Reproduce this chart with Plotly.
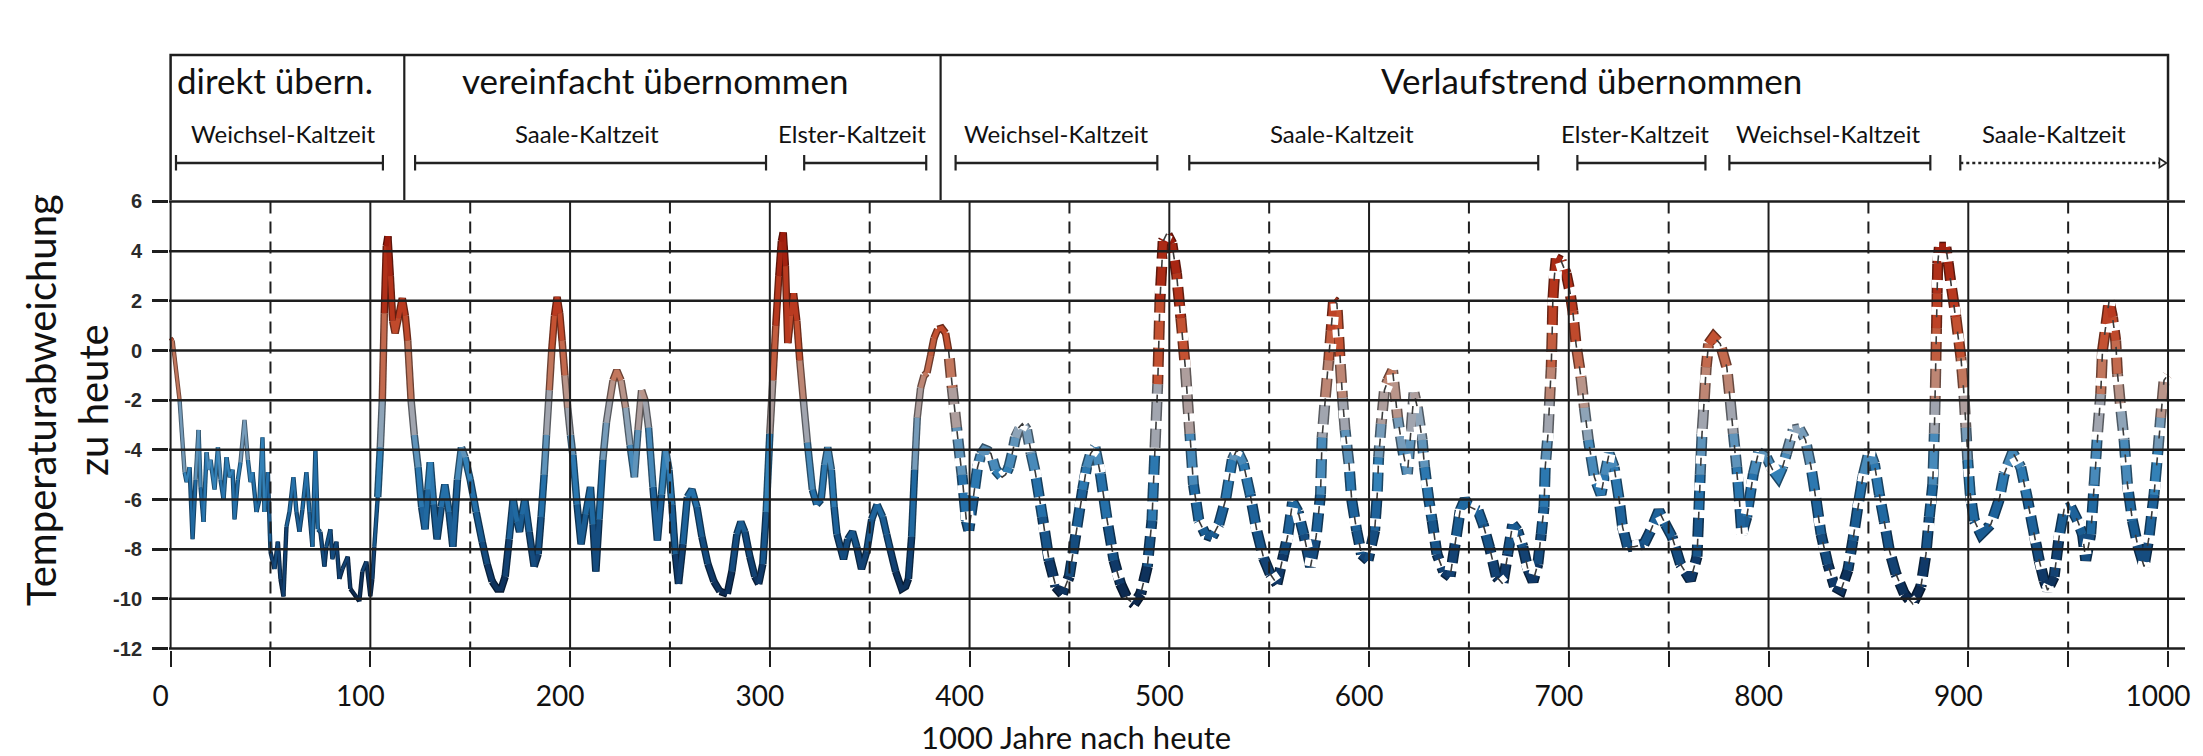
import plotly.graph_objects as go

# ---------------- data ----------------
# 1) directly adopted record (thin line)
direct_years = [0, 1, 4.5, 7, 8, 9.5, 11, 12.5, 14, 15, 16.5, 18, 19, 20, 22, 23.7, 25, 26.5, 28, 29.5,
                31, 32, 33.7, 35, 37, 38.7, 40, 41, 43, 44.5, 46, 47, 48.7, 50, 52, 53.7, 55, 56.5, 58, 59.5,
                61.5, 63, 64.5, 66, 68, 69.5, 71, 72.5, 73.7, 75, 77, 78, 80, 81, 83, 84.5, 86, 88.7, 90, 93,
                94.5, 96, 98, 100, 101, 102, 103.7]
direct_temp = [0.5, 0.4, -2.0, -4.9, -5.3, -4.7, -7.6, -5.2, -3.2, -5.5, -6.9, -4.1, -4.8, -4.4, -5.6, -3.9, -5.2, -6.0, -4.3, -5.1,
               -4.8, -6.8, -5.2, -4.5, -2.8, -4.4, -5.3, -4.9, -6.5, -6.0, -3.5, -6.5, -4.9, -8.1, -8.8, -7.7, -9.2, -9.9, -7.1, -6.5,
               -5.1, -6.5, -7.3, -6.4, -4.9, -6.5, -7.9, -4.0, -7.2, -7.3, -8.7, -7.9, -7.2, -8.4, -7.7, -9.2, -8.8, -8.3, -9.6, -9.9,
               -10.1, -8.9, -8.5, -9.9, -9.2, -7.9, -5.9]

# 2) simplified adoption (thick solid line)
simplified_years = [103.7, 105, 106, 107, 108, 108.8, 110, 111.2, 112.4, 114, 116, 117.5, 118.7, 120.4, 122, 123.9, 125.7, 127.4, 128.8, 130,
                    131.7, 133.4, 135.5, 137.3, 139.4, 141.3, 143.6, 145.6, 147.4, 150, 153, 156, 158.5, 161, 163.5, 165.5, 167.5, 169.5, 171.5, 173.5,
                    174.7, 176, 177.3, 179.5, 182, 184, 185.5, 187, 188.2, 189.6, 190.8, 192.2, 193.5, 194.8, 196, 197.4, 198.8, 200.2, 201.4, 203.5,
                    205.5, 207.8, 210.2, 211.5, 212.9, 214.5, 216.4, 218.2, 219.9, 221.5, 223.4, 225.5, 227.8, 230, 232.2, 234, 235.8, 237.5, 239.3, 241.5,
                    243.7, 245.8, 247.8, 249.5, 251, 252.7, 254.3, 256.5, 258.7, 261, 263.5, 266, 269, 272, 275, 278.7, 281, 283.5, 285.5, 287.5,
                    290, 292.5, 294.4, 296.5, 298.2, 300, 301.5, 303, 304.5, 305.8, 306.7, 307.8, 309, 310.5, 311.9, 313.5, 315, 316.8, 318.8, 321.3,
                    323.5, 325.7, 327.5, 329, 330.8, 332.2, 333.6, 336.9, 339, 341.4, 343.5, 345.9, 348.5, 351, 353.7, 356.5, 358.5, 360.4, 363, 366,
                    368, 369.4, 371, 372.5, 373.8, 375.5, 377.2, 378.7, 380.5, 382.2, 384, 386.1, 388, 389.5]
simplified_temp = [-5.9, -3.9, -2.0, 1.5, 4.2, 4.6, 3.0, 1.2, 0.7, 1.3, 2.1, 1.4, 0.4, -2.0, -3.4, -4.7, -6.3, -7.2, -5.6, -4.5,
                   -6.2, -7.6, -6.3, -5.4, -6.5, -7.9, -5.2, -3.9, -4.3, -5.2, -6.5, -7.7, -8.6, -9.3, -9.6, -9.6, -9.1, -7.6, -6.0, -6.9,
                   -7.3, -6.6, -6.0, -7.3, -8.7, -8.2, -6.7, -5.0, -3.4, -1.6, 0.0, 1.4, 2.15, 1.5, 0.4, -1.0, -2.3, -3.4, -4.2, -6.2,
                   -7.8, -6.6, -5.5, -7.0, -8.9, -6.8, -4.4, -2.9, -2.0, -1.2, -0.8, -1.2, -2.3, -3.8, -5.1, -3.2, -1.6, -2.0, -3.1, -5.5,
                   -7.65, -5.8, -4.0, -4.8, -6.2, -8.2, -9.4, -7.8, -5.9, -5.6, -6.3, -7.5, -8.6, -9.3, -9.7, -9.8, -8.9, -7.4, -6.9, -7.3,
                   -8.3, -9.1, -9.4, -8.6, -6.5, -3.35, -1.2, 1.0, 3.0, 4.4, 4.75, 3.4, 0.3, 1.4, 2.3, 1.2, -0.4, -2.0, -3.7, -5.6,
                   -6.2, -6.0, -4.6, -3.9, -4.8, -6.3, -7.4, -8.4, -7.6, -7.3, -7.9, -8.8, -8.1, -6.8, -6.2, -6.7, -7.4, -8.05, -8.9, -9.6,
                   -9.5, -9.2, -7.5, -4.8, -2.7, -1.5, -1.0, -0.9, -0.2, 0.5, 0.85, 0.9, 0.7, 0.0]

# 3) trend adoption (dashed line)
trend_years = [389.5, 391.3, 393.5, 396.2, 398.4, 399.6, 401.8, 404, 405.7, 407.4, 409, 410.7, 413, 416.3, 418, 419.7, 421.5, 423, 424.7, 426.4,
               428.6, 430.8, 433, 436.5, 439.8, 443.2, 446.5, 449.9, 453.2, 456.6, 458.6, 460.6, 462.8, 465.5, 468.9, 472.3, 475.6, 479, 482.3, 485.7,
               489, 491.3, 492.8, 494.2, 495.3, 496.9, 498.7, 501.3, 503.6, 505.8, 508, 510.3, 512.1, 514.8, 518.1, 521.5, 524.8, 528.2, 531.5, 533.8,
               537.1, 540.5, 543.8, 547.2, 550.5, 553.9, 557.3, 559.2, 561.7, 564.5, 567.3, 570.7, 573.5, 575.7, 576.5, 578.1, 579.8, 581, 582.2, 583.9,
               585.5, 586.7, 588, 590, 591.3, 593.8, 596.2, 599.5, 602.8, 604.1, 604.8, 606.1, 607.7, 609.4, 611.8, 614.3, 616.8, 619.2, 620.9, 622.5,
               624.2, 626.6, 627.8, 629.9, 631.6, 634, 637.3, 640.6, 643.1, 645.6, 648, 650.5, 654.6, 657.1, 660.4, 663.7, 667, 669.4, 671.9, 674.3,
               677, 679.5, 682.1, 684.5, 686.2, 687.6, 688.2, 689.6, 690.4, 691.2, 691.7, 692, 692.8, 693.7, 696.2, 698.7, 700.5, 702, 703.6, 706.1,
               707.8, 709.8, 712.8, 716.1, 718, 720.2, 722.7, 725.2, 726.9, 729.4, 732.7, 737.6, 741, 745.1, 748.4, 751.7, 755.9, 760.9, 764.2, 765,
               765.8, 766.7, 767.8, 768.8, 770, 772.5, 775.8, 779.1, 780.8, 782.4, 784.1, 785.4, 786.6, 789.1, 792.4, 795, 799, 802, 804.8, 807,
               809, 812.3, 815.5, 818.5, 821.3, 823.8, 826.3, 829.7, 833, 836.3, 839.7, 842.2, 844.7, 847.2, 850.5, 853, 855.5, 858, 860.5, 863.8,
               868, 872.2, 876.3, 878.8, 880.5, 882.2, 883, 883.4, 883.8, 884.1, 884.4, 884.7, 885.5, 888.8, 890, 891.3, 893.8, 896.3, 897.7, 898.8,
               899.7, 901, 903, 906.3, 911.3, 915.5, 918, 922.2, 926.3, 929.7, 933, 935.5, 938, 939.7, 943, 945.5, 948, 951.3, 954.7, 957.2,
               958.8, 961.3, 963, 964.7, 966.3, 967.2, 968.8, 970.5, 972.2, 973.8, 974.7, 976.3, 978, 979.7, 982.2, 984.7, 988, 990.5, 993, 995,
               996.3, 998, 999.7]
trend_temp = [0.0, -1.5, -3.1, -5.0, -6.85, -7.25, -6.0, -4.7, -4.2, -4.0, -4.05, -4.15, -4.8, -5.1, -5.0, -4.7, -4.1, -3.5, -3.1, -2.95,
              -3.2, -4.15, -4.95, -6.7, -8.45, -9.5, -9.8, -9.1, -7.4, -5.6, -4.7, -4.15, -3.9, -4.97, -6.85, -8.45, -9.4, -10.0, -10.2, -9.8,
              -8.7, -6.85, -4.0, -1.35, 2.0, 4.4, 4.7, 4.3, 3.1, 1.3, -0.67, -3.35, -5.4, -6.85, -7.4, -7.5, -7.0, -6.0, -4.4, -4.0,
              -4.56, -5.8, -7.25, -8.35, -9.0, -9.4, -8.2, -7.5, -6.1, -6.5, -7.4, -8.7, -7.5, -5.8, -3.5, -1.9, -0.4, 0.8, 2.0, 1.9,
              -0.4, -1.9, -3.2, -4.6, -6.0, -7.25, -8.2, -8.45, -7.25, -5.8, -4.3, -2.95, -1.6, -1.2, -0.8, -2.7, -4.0, -4.97, -3.35, -1.7,
              -2.3, -3.6, -4.7, -6.0, -6.85, -8.2, -8.9, -9.1, -7.8, -6.45, -6.0, -6.3, -6.45, -7.0, -7.95, -9.1, -9.4, -8.2, -7.0, -7.25,
              -7.9, -8.8, -9.3, -8.6, -7.4, -6.3, -4.7, -3.35, -2.0, -0.67, 0.8, 2.0, 3.0, 3.7, 3.6, 3.1, 2.4, 1.6, 0.27, -1.07,
              -2.3, -3.6, -5.1, -5.8, -5.0, -4.15, -4.7, -6.0, -7.1, -7.9, -7.9, -7.8, -7.25, -6.45, -7.0, -7.5, -8.6, -9.25, -8.3, -6.7,
              -5.0, -3.35, -2.0, -0.67, 0.27, 0.55, 0.27, -0.67, -2.0, -3.35, -4.7, -6.0, -7.4, -6.7, -4.97, -4.1, -4.3, -4.8, -5.1, -4.7,
              -4.15, -3.2, -3.15, -3.6, -4.7, -6.0, -7.4, -8.6, -9.5, -9.65, -8.85, -7.65, -6.3, -5.1, -4.0, -4.56, -5.8, -6.9, -8.05, -9.0,
              -9.8, -10.2, -9.5, -8.2, -6.7, -5.4, -3.35, -2.0, -0.4, 0.9, 2.3, 3.5, 4.16, 4.16, 3.5, 2.7, 1.35, -0.27, -1.6, -3.1,
              -4.4, -5.8, -6.85, -7.4, -7.0, -6.0, -4.97, -4.1, -4.7, -6.0, -7.4, -8.45, -9.26, -9.65, -9.1, -7.5, -6.4, -6.3, -6.85, -7.4,
              -8.45, -7.4, -5.4, -3.35, -1.75, 0.0, 0.94, 2.0, 1.35, 0.4, -0.94, -2.3, -3.6, -5.4, -6.85, -7.8, -8.7, -7.5, -5.8, -4.0,
              -2.7, -1.2, -1.0]

assert len(direct_years) == len(direct_temp), (len(direct_years), len(direct_temp))
assert len(simplified_years) == len(simplified_temp), (len(simplified_years), len(simplified_temp))
assert len(trend_years) == len(trend_temp), (len(trend_years), len(trend_temp))

# axis ticks
x_tick_vals = [0, 100, 200, 300, 400, 500, 600, 700, 800, 900, 1000]
x_tick_text = ["0", "100", "200", "300", "400", "500", "600", "700", "800", "900", "1000"]
x_minor_vals = [50, 150, 250, 350, 450, 550, 650, 750, 850, 950]
y_tick_vals = [-12, -10, -8, -6, -4, -2, 0, 2, 4, 6]
y_tick_text = ["-12", "-10", "-8", "-6", "-4", "-2", "0", "2", "4", "6"]

# header: adoption methods and their extents
method_names = ["direkt übern.", "vereinfacht übernommen", "Verlaufstrend übernommen"]
method_bounds = [0, 117, 385.5, 1000]

# header: cold periods (brackets)
period_names = ["Weichsel-Kaltzeit", "Saale-Kaltzeit", "Elster-Kaltzeit", "Weichsel-Kaltzeit",
                "Saale-Kaltzeit", "Elster-Kaltzeit", "Weichsel-Kaltzeit", "Saale-Kaltzeit"]
period_start = [2.7, 122.4, 317.2, 393, 510, 704.3, 780.4, 896]
period_end = [106.3, 298.1, 378.3, 494, 684.7, 768.4, 881, 999.2]

# ---------------- styling ----------------
W, H = 2203, 756
M_L, M_R, M_T, M_B = 169, 18, 200, 106
X_RANGE = [-0.8, 1008.5]
Y_RANGE = [-12.06, 6.06]
PLOT_H = H - M_T - M_B


def py_to_paper(py):
    return (H - M_B - py) / PLOT_H


def px_to_paper(px):
    return (px - M_L) / (W - M_L - M_R)


GRID = "#1e1e1e"
TXT_FONT = "Lato, Carlito, 'Open Sans', sans-serif"

COLOR_STOPS = [(-10.5, (10, 30, 62)), (-9.0, (16, 56, 102)), (-7.5, (24, 86, 140)), (-6.0, (34, 108, 165)),
               (-4.8, (52, 130, 184)), (-3.8, (104, 152, 188)), (-2.8, (156, 168, 182)), (-1.8, (184, 152, 142)),
               (-0.8, (194, 118, 92)), (0.5, (196, 82, 50)), (2.0, (184, 56, 30)), (4.8, (156, 26, 12))]


def color_at(v):
    if v <= COLOR_STOPS[0][0]:
        return COLOR_STOPS[0][1]
    for (a, ca), (b, cb) in zip(COLOR_STOPS[:-1], COLOR_STOPS[1:]):
        if v <= b:
            t = (v - a) / (b - a)
            return tuple(ca[i] + t * (cb[i] - ca[i]) for i in range(3))
    return COLOR_STOPS[-1][1]


def rgb(c, f=1.0):
    return "rgb(%d,%d,%d)" % tuple(max(0, min(255, int(round(ch * f)))) for ch in c)


N_BINS = 34
VMIN, VMAX = -10.5, 4.8


def bin_index(v):
    k = int((v - VMIN) / (VMAX - VMIN) * N_BINS)
    return min(max(k, 0), N_BINS - 1)


def bin_value(k):
    return VMIN + (k + 0.5) * (VMAX - VMIN) / N_BINS


def runs_by_bin(xs, ys):
    segs = [bin_index((ys[i] + ys[i + 1]) / 2.0) for i in range(len(xs) - 1)]
    runs = {}
    i = 0
    while i < len(segs):
        j = i
        while j + 1 < len(segs) and segs[j + 1] == segs[i]:
            j += 1
        rx, ry = runs.setdefault(segs[i], ([], []))
        rx.extend(list(xs[i:j + 2]) + [None])
        ry.extend(list(ys[i:j + 2]) + [None])
        i = j + 1
    return runs


fig = go.Figure()


def add_gradient_line(xs, ys, w_under, w_top, dark=0.55):
    runs = runs_by_bin(xs, ys)
    for k in sorted(runs):
        rx, ry = runs[k]
        fig.add_trace(go.Scatter(x=rx, y=ry, mode="lines", hoverinfo="skip", showlegend=False,
                                 line=dict(color=rgb(color_at(bin_value(k)), dark), width=w_under)))
    for k in sorted(runs):
        rx, ry = runs[k]
        fig.add_trace(go.Scatter(x=rx, y=ry, mode="lines", hoverinfo="skip", showlegend=False,
                                 line=dict(color=rgb(color_at(bin_value(k))), width=w_top)))


add_gradient_line(direct_years, direct_temp, 4.4, 2.4, dark=0.6)
add_gradient_line(simplified_years, simplified_temp, 7.5, 4.8)
add_gradient_line(trend_years, trend_temp, 11.0, 8.0)

DASH_GAP = "8px,19px"
fig.add_trace(go.Scatter(x=trend_years, y=trend_temp, mode="lines", hoverinfo="skip", showlegend=False,
                         line=dict(color="white", width=13, dash=DASH_GAP)))
fig.add_trace(go.Scatter(x=trend_years, y=trend_temp, mode="lines", hoverinfo="skip", showlegend=False,
                         line=dict(color="#3a3a3a", width=1.6, dash=DASH_GAP)))

shapes = []
for yv in y_tick_vals:
    shapes.append(dict(type="line", xref="x", yref="y", x0=X_RANGE[0], x1=X_RANGE[1], y0=yv, y1=yv,
                       line=dict(color=GRID, width=2.5), layer="above"))
for xv in x_tick_vals:
    shapes.append(dict(type="line", xref="x", yref="y", x0=xv, x1=xv, y0=y_tick_vals[0], y1=y_tick_vals[-1],
                       line=dict(color=GRID, width=2), layer="above"))
for xv in x_minor_vals:
    shapes.append(dict(type="line", xref="x", yref="y", x0=xv, x1=xv, y0=y_tick_vals[-1], y1=y_tick_vals[0],
                       line=dict(color=GRID, width=2, dash="12px,8px"), layer="above"))

# header box
HB_TOP = py_to_paper(55)
HB_BOT = 1.0
shapes.append(dict(type="path", xref="x", yref="paper",
                   path="M %s,%s L %s,%s L %s,%s L %s,%s" % (method_bounds[0], HB_BOT, method_bounds[0], HB_TOP,
                                                          method_bounds[-1], HB_TOP, method_bounds[-1], HB_BOT),
                   line=dict(color=GRID, width=2.5), layer="above"))
for xb in method_bounds[1:-1]:
    shapes.append(dict(type="line", xref="x", yref="paper", x0=xb, x1=xb, y0=HB_BOT, y1=HB_TOP,
                       line=dict(color=GRID, width=2.2), layer="above"))

BR_Y = py_to_paper(163)
BR_T0 = py_to_paper(155)
BR_T1 = py_to_paper(170.5)
for i, (a, b) in enumerate(zip(period_start, period_end)):
    last = i == len(period_start) - 1
    shapes.append(dict(type="line", xref="x", yref="paper", x0=a, x1=b - (3 if last else 0), y0=BR_Y, y1=BR_Y,
                       line=dict(color="#222", width=2.6, dash="dot" if last else "solid"), layer="above"))
    shapes.append(dict(type="line", xref="x", yref="paper", x0=a, x1=a, y0=BR_T0, y1=BR_T1,
                       line=dict(color="#222", width=2.2), layer="above"))
    if not last:
        shapes.append(dict(type="line", xref="x", yref="paper", x0=b, x1=b, y0=BR_T0, y1=BR_T1,
                           line=dict(color="#222", width=2.2), layer="above"))
    else:
        shapes.append(dict(type="path", xref="x", yref="paper",
                           path="M %s,%s L %s,%s L %s,%s Z" % (b - 3.5, py_to_paper(158.5), b, BR_Y, b - 3.5, py_to_paper(167.5)),
                           line=dict(color="#222", width=1.6), fillcolor="white", layer="above"))

annotations = []
method_shift = [-12, -17, 37]
for name, a, b, sh in zip(method_names, method_bounds[:-1], method_bounds[1:], method_shift):
    annotations.append(dict(text=name, x=(a + b) / 2, xref="x", y=py_to_paper(80), yref="paper",
                            xshift=sh, showarrow=False, xanchor="center", yanchor="middle",
                            font=dict(family=TXT_FONT, size=35, color="#111")))
period_shift = [4, -4, -13, 0, -22, -6, -1, -9]
for name, a, b, sh in zip(period_names, period_start, period_end, period_shift):
    annotations.append(dict(text=name, x=(a + b) / 2, xref="x", y=py_to_paper(134), yref="paper",
                            xshift=sh, showarrow=False, xanchor="center", yanchor="middle",
                            font=dict(family=TXT_FONT, size=24, color="#111")))

annotations.append(dict(text="Temperaturabweichung<br>zu heute", textangle=-90, x=px_to_paper(67), xref="paper",
                        y=py_to_paper(400), yref="paper", showarrow=False, xanchor="center", yanchor="middle",
                        align="center", font=dict(family=TXT_FONT, size=40, color="#111")))
annotations.append(dict(text="1000 Jahre nach heute", x=px_to_paper(1076), xref="paper", y=py_to_paper(737),
                        yref="paper", showarrow=False, xanchor="center", yanchor="middle",
                        font=dict(family=TXT_FONT, size=31, color="#111")))

fig.update_layout(width=W, height=H, margin=dict(l=M_L, r=M_R, t=M_T, b=M_B),
                  plot_bgcolor="white", paper_bgcolor="white", showlegend=False,
                  shapes=shapes, annotations=annotations)
fig.update_xaxes(range=X_RANGE, tickmode="array", tickvals=x_tick_vals, ticktext=x_tick_text,
                 ticks="outside", ticklen=16, tickwidth=2, tickcolor=GRID,
                 showgrid=False, zeroline=False, showline=False,
                 tickfont=dict(family=TXT_FONT, size=28, color="#111"),
                 ticklabelstandoff=5, ticklabelshift=-10,
                 minor=dict(tickmode="array", tickvals=x_minor_vals, ticks="outside", ticklen=16, tickwidth=2,
                            tickcolor=GRID, showgrid=False))
fig.update_yaxes(range=Y_RANGE, tickmode="array", tickvals=y_tick_vals, ticktext=y_tick_text,
                 ticks="outside", ticklen=16, tickwidth=2.5, tickcolor=GRID,
                 showgrid=False, zeroline=False, showline=False,
                 tickfont=dict(family="'Liberation Sans', Arial, sans-serif", size=20, color="#2a2a2a", weight="bold"),
                 ticklabelstandoff=6)

fig.write_html("out.html")
